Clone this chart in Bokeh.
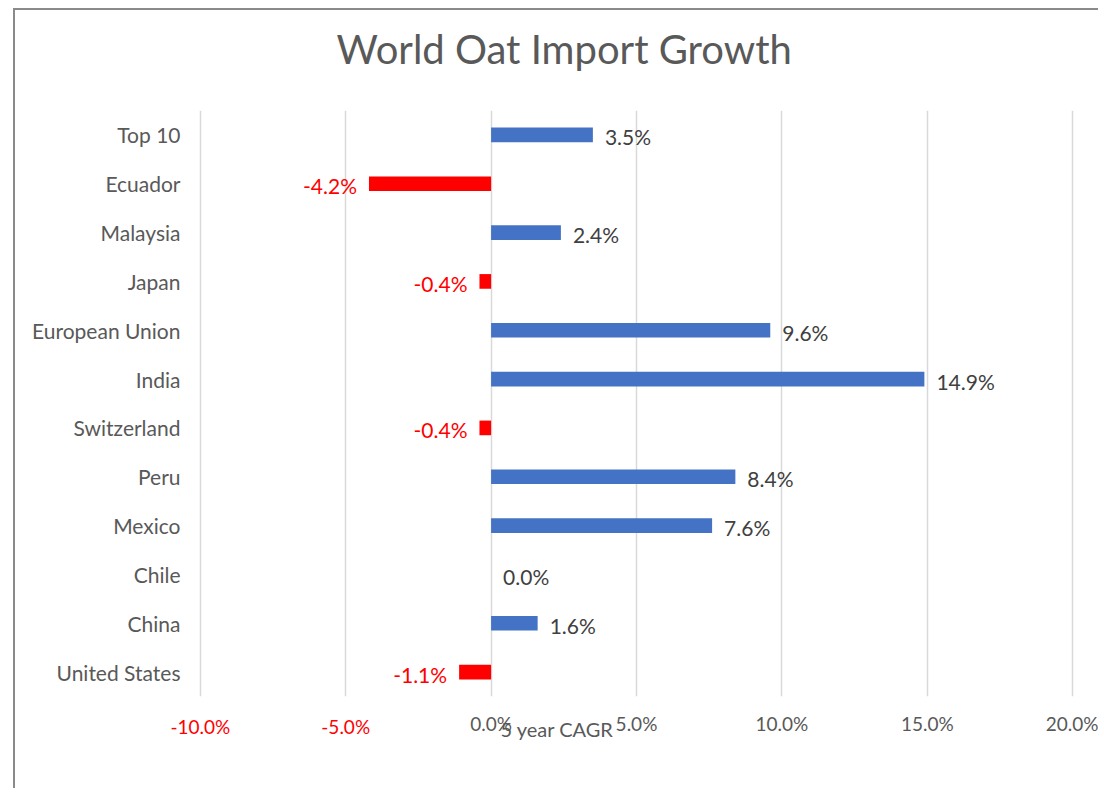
from bokeh.plotting import figure
from bokeh.models import (FactorRange, Range1d, FixedTicker, PrintfTickFormatter,
                          ColumnDataSource, LinearAxis, Title)
from bokeh.core.properties import value
from bokeh.embed import file_html
from bokeh.resources import INLINE

# ---- data ----
categories = ["Top 10", "Ecuador", "Malaysia", "Japan", "European Union", "India",
              "Switzerland", "Peru", "Mexico", "Chile", "China", "United States"]
cagr = [3.5, -4.2, 2.4, -0.4, 9.6, 14.9, -0.4, 8.4, 7.6, 0.0, 1.6, -1.1]
x_ticks = [-10, -5, 0, 5, 10, 15, 20]
title_text = "World Oat Import Growth"
axis_title = "5 year CAGR"

FONT = "Lato"
GRAY = "#595959"
DARK = "#404040"
RED = "#FF0000"
BLUE = "#4472C4"

p = figure(y_range=FactorRange(factors=categories[::-1]), x_range=Range1d(-10.2, 20.2),
           width=1085, height=780, output_backend="svg", toolbar_location=None,
           min_border_left=179, min_border_right=22, min_border_top=100, min_border_bottom=94)
p.styles = {"border-left": "2px solid #8a8a8a", "border-top": "2px solid #8a8a8a",
            "margin-left": "13px", "margin-top": "8px"}
p.outline_line_color = None
p.background_fill_color = "white"
p.border_fill_color = "white"

# spacer between frame and title (keeps the title high without moving the frame)
p.add_layout(Title(text=" ", text_font_size="1px", standoff=28), "above")

# title
p.title.text = title_text
p.title.align = "left"
p.title.offset = 142
p.title.standoff = 14
p.title.text_font = FONT
p.title.text_font_size = "40px"
p.title.text_font_style = "normal"
p.title.text_color = GRAY

# bars
colors = [RED if v < 0 else BLUE for v in cagr]
src = ColumnDataSource(dict(cat=categories, val=cagr, color=colors))
p.hbar(y="cat", right="val", left=0, height=0.3, color="color", source=src, line_color=None)

# data labels
pos_idx = [i for i, v in enumerate(cagr) if v >= 0]
neg_idx = [i for i, v in enumerate(cagr) if v < 0]
pos_src = ColumnDataSource(dict(cat=[categories[i] for i in pos_idx],
                                val=[cagr[i] for i in pos_idx],
                                lbl=[f"{cagr[i]:.1f}%" for i in pos_idx]))
neg_src = ColumnDataSource(dict(cat=[categories[i] for i in neg_idx],
                                val=[cagr[i] for i in neg_idx],
                                lbl=[f"{cagr[i]:.1f}%" for i in neg_idx]))
p.text(x="val", y="cat", text="lbl", source=pos_src, x_offset=12, y_offset=2,
       text_align="left", text_baseline="middle", text_font=value(FONT),
       text_font_size="21px", text_color=DARK)
p.text(x="val", y="cat", text="lbl", source=neg_src, x_offset=-12, y_offset=2,
       text_align="right", text_baseline="middle", text_font=value(FONT),
       text_font_size="21px", text_color=RED)

# grid
p.ygrid.grid_line_color = None
p.xgrid.ticker = FixedTicker(ticks=x_ticks)
p.xgrid.grid_line_color = "#d9d9d9"
p.xgrid.grid_line_width = 1.5

def style_x_axis(ax, ticks, color, standoff):
    ax.ticker = FixedTicker(ticks=ticks)
    ax.formatter = PrintfTickFormatter(format="%.1f%%")
    ax.axis_line_color = None
    ax.major_tick_line_color = None
    ax.minor_tick_line_color = None
    ax.major_tick_out = 0
    ax.major_tick_in = 0
    ax.major_label_standoff = standoff
    ax.major_label_text_font = FONT
    ax.major_label_text_font_size = "19px"
    ax.major_label_text_color = color

# inner axis: non-negative ticks in gray
style_x_axis(p.xaxis[0], [t for t in x_ticks if t >= 0], GRAY, 15)
# outer axis: negative ticks in red, pulled up onto the same line
neg_axis = LinearAxis()
style_x_axis(neg_axis, [t for t in x_ticks if t < 0], RED, -23)
p.add_layout(neg_axis, "below")

# axis title, overlapping the tick labels as in the original
p.add_layout(Title(text=axis_title, align="left", offset=306, standoff=-48,
                   vertical_align="top", text_font=FONT, text_font_size="20px",
                   text_font_style="normal", text_color=GRAY), "below")

# y axis
p.yaxis.axis_line_color = None
p.yaxis.major_tick_line_color = None
p.yaxis.minor_tick_line_color = None
p.yaxis.major_tick_out = 0
p.yaxis.major_label_standoff = 14
p.yaxis.major_label_text_font = FONT
p.yaxis.major_label_text_font_size = "21px"
p.yaxis.major_label_text_color = GRAY

open("out.html", "w").write(file_html(p, INLINE))
